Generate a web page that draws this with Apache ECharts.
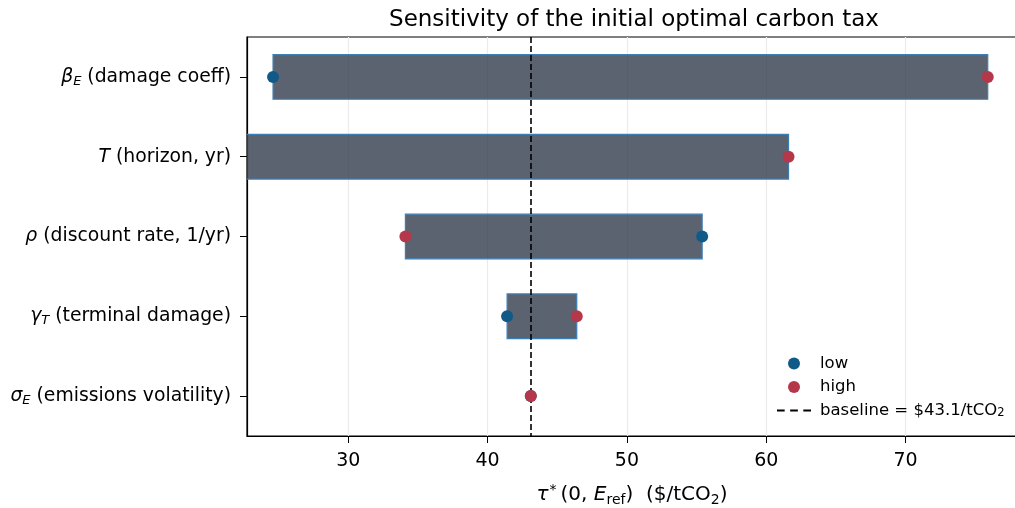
<!DOCTYPE html>
<html>
<head>
<meta charset="utf-8">
<script src="https://cdn.jsdelivr.net/npm/echarts@6/dist/echarts.min.js"></script>
<style>
  html, body { margin: 0; padding: 0; background: #fff; }
  #chart { width: 1015px; height: 508px; }
</style>
</head>
<body>
<div id="chart"></div>
<script>
  // parameters, top row first
  const params = ['beta', 'T', 'rho', 'gamma', 'sigma'];
  const lowVals = [24.6, 22.7, 55.4, 41.4, 43.1];
  const highVals = [75.9, 61.6, 34.1, 46.4, 43.1];
  const baseline = 43.1;
  const xTicks = [30, 40, 50, 60, 70];

  const labelText = {
    beta: '{g|β}{s|E}{t| (damage coeff)}',
    T: '{g|T}{t| (horizon, yr)}',
    rho: '{g|ρ}{t| (discount rate, 1/yr)}',
    gamma: '{g|γ}{s|T}{t| (terminal damage)}',
    sigma: '{g|σ}{s|E}{t| (emissions volatility)}'
  };

  const font = "'DejaVu Sans', sans-serif";
  const rangeData = params.map((p, i) => [i, Math.min(lowVals[i], highVals[i]), Math.max(lowVals[i], highVals[i])]);

  const chart = echarts.init(document.getElementById('chart'), null, { renderer: 'canvas' });
  const option = {
    animation: false,
    backgroundColor: '#fff',
    textStyle: { fontFamily: font },
    title: {
      text: 'Sensitivity of the initial optimal carbon tax',
      left: 629, top: 4, textAlign: 'center',
      textStyle: { fontFamily: font, fontSize: 23, fontWeight: 'normal', color: '#000' }
    },
    grid: {
      left: 247, right: -2, top: 37, bottom: 72,
      containLabel: false, outerBoundsMode: 'none',
      show: true, borderColor: '#000', borderWidth: 1.2, backgroundColor: 'transparent'
    },
    legend: {
      orient: 'vertical',
      left: 772, top: 350,
      itemWidth: 34, itemHeight: 12, itemGap: 6.5,
      data: [
        { name: 'low', icon: 'circle' },
        { name: 'high', icon: 'circle' },
        { name: 'baseline', icon: 'path://M0,0 L7,0 L7,2 L0,2 Z M12,0 L19,0 L19,2 L12,2 Z M24,0 L31,0 L31,2 L24,2 Z' }
      ],
      formatter: function (n) {
        return n === 'baseline' ? 'baseline = $43.1/tCO{sub|2}' : n;
      },
      textStyle: {
        fontFamily: font, fontSize: 16.5, lineHeight: 17, color: '#000', padding: [0, 0, 0, 4],
        rich: { sub: { fontSize: 11.5, fontFamily: font, verticalAlign: 'bottom', padding: [9, 0, 0, 0] } }
      }
    },
    xAxis: {
      type: 'value',
      min: 22.73, max: 78,
      name: '{g|τ}{sup|*}{t|(0, }{g|E}{sub|ref}{t|)  ($/tCO}{sub|2}{t|)}',
      nameLocation: 'middle', nameGap: 47,
      nameTextStyle: {
        fontFamily: font, fontSize: 20, color: '#000',
        rich: {
          g: { fontFamily: font, fontSize: 20, fontStyle: 'italic', color: '#000' },
          t: { fontFamily: font, fontSize: 20, color: '#000' },
          sup: { fontFamily: font, fontSize: 14, color: '#000', verticalAlign: 'top', padding: [0, 4, 10, 1] },
          sub: { fontFamily: font, fontSize: 14, color: '#000', verticalAlign: 'bottom', padding: [10, 0, 0, 0] }
        }
      },
      axisLine: { show: true, onZero: false, lineStyle: { color: '#000', width: 1.2 } },
      axisTick: { show: true, length: 7, customValues: xTicks, lineStyle: { color: '#000' } },
      axisLabel: {
        fontFamily: font, fontSize: 19, color: '#000', margin: 16,
        customValues: xTicks
      },
      splitLine: { show: false }
    },
    yAxis: [{
      type: 'category',
      inverse: true,
      data: params,
      axisLine: { show: true, onZero: false, lineStyle: { color: '#000', width: 1.2 } },
      axisTick: { show: true, alignWithLabel: true, length: 7, lineStyle: { color: '#000' } },
      axisLabel: {
        margin: 16,
        formatter: function (v) { return labelText[v]; },
        rich: {
          g: { fontFamily: font, fontSize: 18.8, fontStyle: 'italic', color: '#000' },
          t: { fontFamily: font, fontSize: 18.8, color: '#000' },
          s: { fontFamily: font, fontSize: 13, fontStyle: 'italic', color: '#000', verticalAlign: 'bottom', padding: [9, 0, 0, 0] }
        }
      },
      splitLine: { show: false }
    }],
    series: [
      {
        name: 'grid',
        type: 'line',
        data: [],
        silent: true,
        markLine: {
          silent: true,
          symbol: ['none', 'none'],
          label: { show: false },
          lineStyle: { color: '#ebebeb', type: 'solid', width: 1.2 },
          data: xTicks.map(v => ({ xAxis: v })),
          z: 0
        },
        z: 0
      },
      {
        name: 'range',
        type: 'custom',
        data: rangeData,
        encode: { x: [1, 2], y: 0 },
        renderItem: function (p, api) {
          const a = api.coord([api.value(1), api.value(0)]);
          const b = api.coord([api.value(2), api.value(0)]);
          const h = api.size([0, 1])[1] * 0.56;
          const w = b[0] - a[0];
          if (w <= 0.5) return null;
          return {
            type: 'rect',
            shape: { x: a[0], y: a[1] - h / 2, width: w, height: h },
            style: { fill: 'rgba(50,60,78,0.8)', stroke: '#3b7fb6', lineWidth: 1.2 }
          };
        },
        clip: true,
        z: 2,
        markLine: {
          silent: true,
          symbol: ['none', 'none'],
          label: { show: false },
          lineStyle: { color: '#000', type: [6, 3], width: 1.6 },
          data: [{ xAxis: baseline }],
          z: 5
        }
      },
      {
        name: 'low',
        type: 'scatter',
        data: params.map((p, i) => [lowVals[i], i]),
        symbolSize: 12,
        itemStyle: { color: '#115a88', opacity: 1 },
        z: 6
      },
      {
        name: 'high',
        type: 'scatter',
        data: params.map((p, i) => [highVals[i], i]),
        symbolSize: 12,
        itemStyle: { color: '#b5374a', opacity: 1 },
        z: 7
      },
      {
        name: 'baseline',
        type: 'line',
        data: [],
        itemStyle: { color: '#000' },
        lineStyle: { color: '#000', type: 'dashed' }
      }
    ]
  };
  chart.setOption(option);
</script>
</body>
</html>
